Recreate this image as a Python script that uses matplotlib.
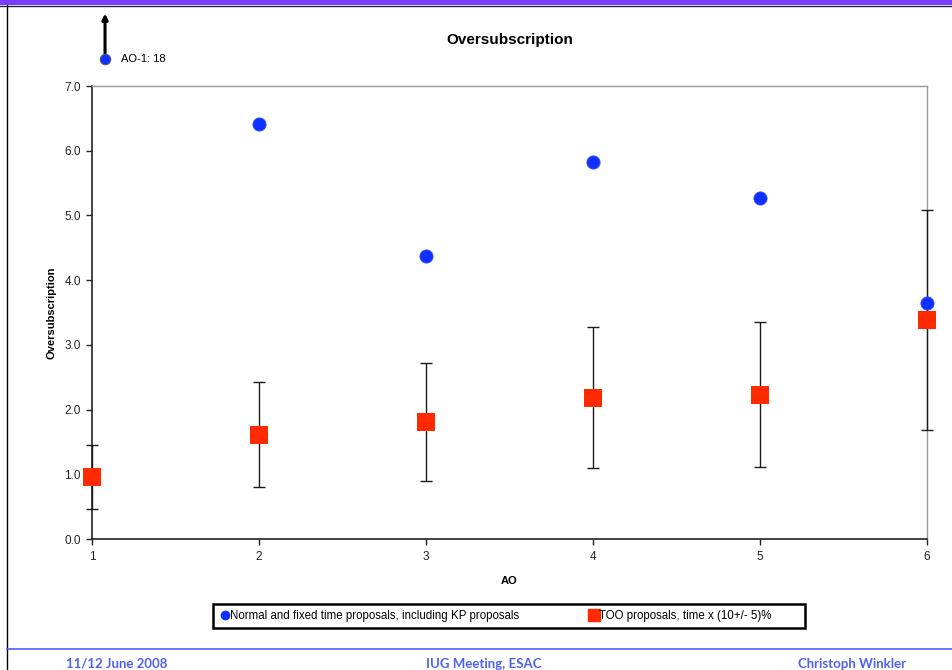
import matplotlib
matplotlib.use("Agg")
import matplotlib.pyplot as plt
from matplotlib.lines import Line2D
from matplotlib.patches import Rectangle

plt.rcParams['font.family'] = ['Liberation Sans', 'DejaVu Sans']

# Announcement of opportunity rounds
ao = [1, 2, 3, 4, 5, 6]

# Normal and fixed time proposals (AO-1 is off scale and annotated separately)
normal_ao = [2, 3, 4, 5, 6]
normal_vals = [6.41, 4.37, 5.82, 5.27, 3.65]
ao1_normal = 18

# TOO proposals with their uncertainty
too_vals = [0.96, 1.61, 1.81, 2.18, 2.23, 3.38]
too_err = [0.49, 0.81, 0.91, 1.09, 1.12, 1.70]

y_ticks = [0.0, 1.0, 2.0, 3.0, 4.0, 5.0, 6.0, 7.0]

W, H = 953, 670
fig = plt.figure(figsize=(W / 100, H / 100), dpi=100)
fig.patch.set_facecolor('white')

# slide decorations
fig.add_artist(Rectangle((0, 1 - 5 / H), 1, 5 / H, transform=fig.transFigure,
                         facecolor='#7b3cff', edgecolor='none'))
fig.add_artist(Line2D([0, 1], [1 - 5.5 / H, 1 - 5.5 / H], transform=fig.transFigure,
                      color='#2a1a55', lw=1.0))
fig.add_artist(Line2D([7.5 / W, 7.5 / W], [0, 1 - 5 / H], transform=fig.transFigure,
                      color='black', lw=1.0))
fig.add_artist(Line2D([7.5 / W, 1], [1 - 649 / H, 1 - 649 / H], transform=fig.transFigure,
                      color='#4c5cff', lw=1.2))

footer_kw = dict(fontsize=9.5, fontweight='bold', color='#5060f0',
                 family=['Lato', 'DejaVu Sans'], ha='center', va='center')
fig.text(117 / W, 1 - 664 / H, '11/12 June 2008', **footer_kw)
fig.text(484 / W, 1 - 664 / H, 'IUG Meeting, ESAC', **footer_kw)
fig.text(852 / W, 1 - 664 / H, 'Christoph Winkler', **footer_kw)

ax = fig.add_axes([92 / W, 1 - 539 / H, 835 / W, 453 / H])
ax.set_xlim(1, 6)
ax.set_ylim(0, 7)

ax.errorbar(ao, too_vals, yerr=too_err, fmt='none', ecolor='#1a1a1a',
            elinewidth=1.0, capsize=4, capthick=1.0, zorder=3, clip_on=False)
ax.plot(normal_ao, normal_vals, 'o', color='#1030ff', markersize=9.5,
        markeredgecolor='#3050ff', markeredgewidth=0.6, zorder=4, clip_on=False)
ax.plot(ao, too_vals, 's', color='#ff2a00', markersize=12.5,
        markeredgewidth=0, zorder=5, clip_on=False)

# off-scale AO-1 value
ax.annotate('', xy=(1.078, 8.12), xytext=(1.078, 7.50),
            xycoords='data', annotation_clip=False,
            arrowprops=dict(arrowstyle='-|>', color='black', lw=2.2,
                            mutation_scale=8, shrinkA=0, shrinkB=0))
ax.plot([1.078], [7.42], 'o', color='#1030ff', markersize=7.5,
        markeredgecolor='#555577', markeredgewidth=0.8, clip_on=False, zorder=5)
ax.text(1.175, 7.42, f'AO-1: {ao1_normal}', fontsize=8, va='center', ha='left',
        clip_on=False)

ax.set_yticks(y_ticks)
ax.set_yticklabels([f'{v:.1f}' for v in y_ticks])
ax.set_xticks(ao)
ax.tick_params(axis='both', direction='out', length=4, width=1, labelsize=8.5,
               colors='#222222', pad=5)
ax.tick_params(axis='y', pad=4)

for side in ('top', 'right'):
    ax.spines[side].set_color('#999999')
    ax.spines[side].set_linewidth(1.0)
for side in ('left', 'bottom'):
    ax.spines[side].set_color('#222222')
    ax.spines[side].set_linewidth(1.2)

ax.set_title('Oversubscription', fontsize=11, fontweight='bold', pad=30)
ax.set_xlabel('AO', fontsize=8, fontweight='bold', labelpad=9)
ax.set_ylabel('Oversubscription', fontsize=8, fontweight='bold', labelpad=6)

# legend box
fig.add_artist(Rectangle((213 / W, 1 - 628 / H), 592 / W, 24 / H,
                         transform=fig.transFigure, facecolor='white',
                         edgecolor='black', linewidth=1.8))
handles = [
    Line2D([], [], marker='o', linestyle='none', color='#1030ff', markersize=6),
    Line2D([], [], marker='s', linestyle='none', color='#ff2a00', markersize=8.5),
]
labels = ['Normal and fixed time proposals, including KP proposals',
          'TOO proposals, time x (10+/- 5)%']
leg = fig.legend(handles, labels, loc='center left',
                 bbox_to_anchor=(222 / W, 1 - 616 / H),
                 ncol=2, fontsize=8.3, frameon=False,
                 handlelength=0.6, handletextpad=0.1, columnspacing=6.2,
                 borderpad=0.0, borderaxespad=0)
leg.set_zorder(5)

fig.savefig('out.png', dpi=100)
